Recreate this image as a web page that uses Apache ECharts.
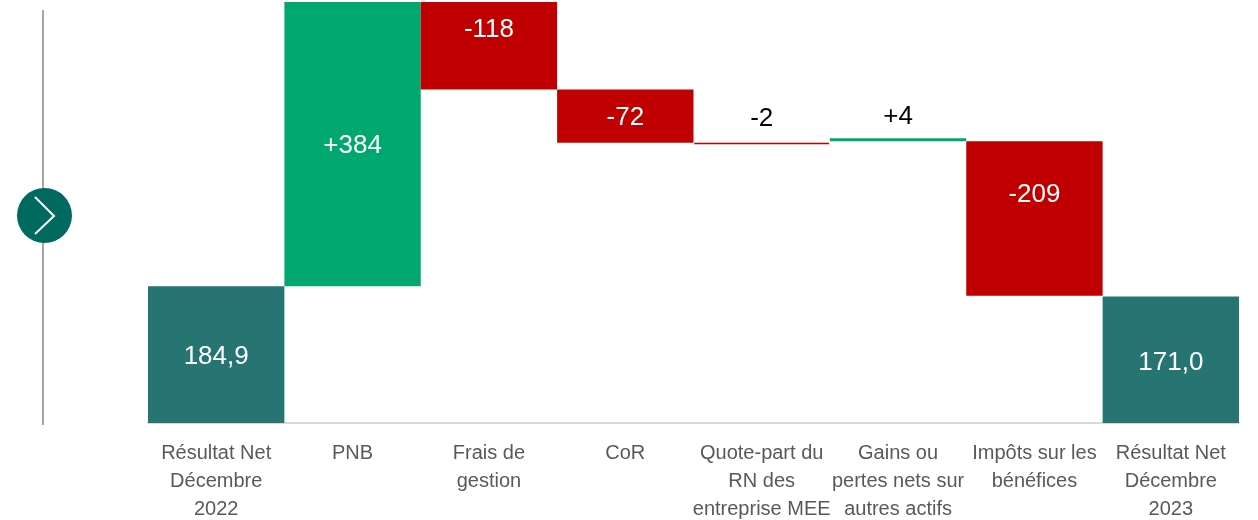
<!DOCTYPE html>
<html><head><meta charset="utf-8">
<style>html,body{margin:0;padding:0;background:#fff}#c{width:1258px;height:520px}</style>
<script src="https://cdn.jsdelivr.net/npm/echarts@6/dist/echarts.min.js"></script>
</head><body><div id="c"></div>
<script>
const categories = ['Résultat Net\nDécembre\n2022','PNB','Frais de\ngestion','CoR','Quote-part du\nRN des\nentreprise MEE','Gains ou\npertes nets sur\nautres actifs','Impôts sur les\nbénéfices','Résultat Net\nDécembre\n2023'];
const baseValues = [0,184.9,450.9,378.9,376.9,380.9,171.9,0];
const barValues = [184.9,384,118,72,2,4,209,171];
const valueLabels = ['184,9','+384','-118','-72','-2','+4','-209','171,0'];
const kinds = ['total','up','down','down','down','up','down','total'];
const colors = {total:'#267573',up:'#00A870',down:'#C00000'};
const labelShift = [2,2,-16,2,-25,-23,-24,3];
const edgeWidth = [0,0,0,0,1.5,2,0,0];
const labelFont = 'Liberation Sans';
const chart = echarts.init(document.getElementById('c'),null,{renderer:'canvas'});
chart.setOption({
  animation:false,
  grid:{left:148,right:19,top:2,bottom:97,outerBoundsMode:'none'},
  xAxis:{type:'category',data:categories,
    axisLine:{show:true,lineStyle:{color:'#D9D9D9',width:2}},axisTick:{show:false},
    axisLabel:{interval:0,margin:16,color:'#595959',fontFamily:labelFont,fontSize:20,lineHeight:28}},
  yAxis:{type:'value',min:0,max:569,show:false,splitLine:{show:false}},
  series:[
    {type:'bar',stack:'w',barWidth:'100%',silent:true,itemStyle:{color:'transparent'},data:baseValues},
    {type:'bar',stack:'w',barWidth:'100%',data:barValues.map((v,i)=>({
      value:v,
      itemStyle:{color:colors[kinds[i]],borderColor:colors[kinds[i]],borderWidth:edgeWidth[i]},
      label:{show:true,position:'inside',formatter:valueLabels[i],offset:[0,labelShift[i]],
        color:(i===4||i===5)?'#000':'#fff',fontFamily:labelFont,fontSize:26}
    }))}
  ],
  graphic:[
    {type:'line',shape:{x1:43,y1:10,x2:43,y2:425},style:{stroke:'#A6A6A6',lineWidth:2},z:1},
    {type:'circle',shape:{cx:44.5,cy:215.5,r:27.5},style:{fill:'#006A60'},z:2},
    {type:'polyline',shape:{points:[[35,197],[54,216],[35,234]]},style:{stroke:'#fff',lineWidth:2,fill:null},z:3}
  ]
});
</script></body></html>
